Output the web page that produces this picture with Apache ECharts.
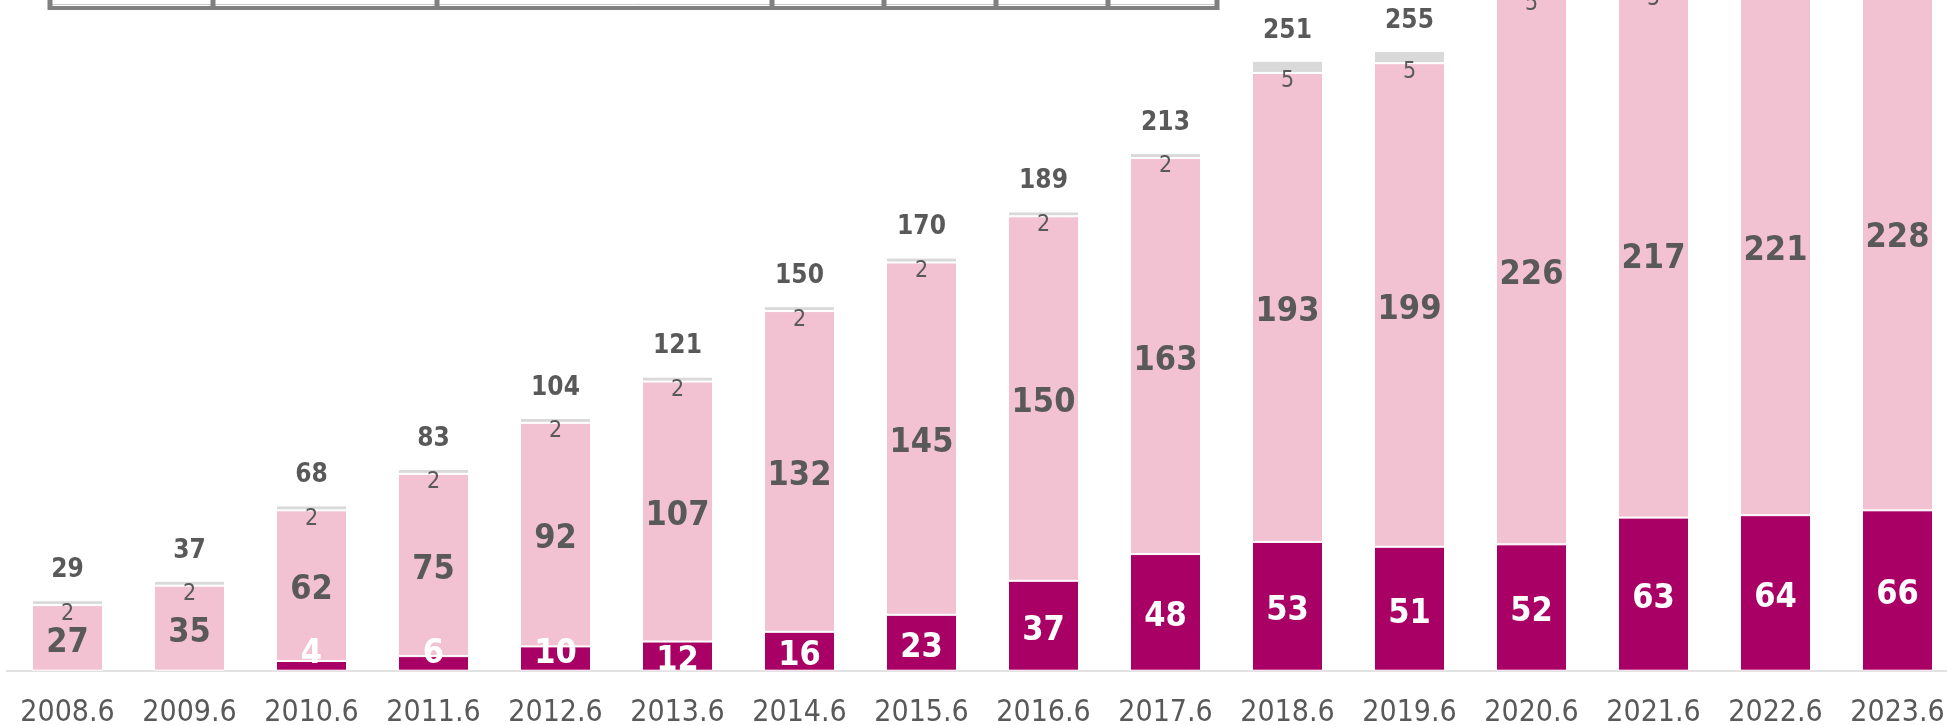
<!DOCTYPE html>
<html>
<head>
<meta charset="utf-8">
<title>chart</title>
<script src="https://cdn.jsdelivr.net/npm/echarts@6/dist/echarts.min.js"></script>
<style>
  html, body { margin: 0; padding: 0; background: #fff; }
  #chart { width: 1947px; height: 725px; }
</style>
</head>
<body>
<div id="chart"></div>
<script>
// 年度
const categories = ['2008.6', '2009.6', '2010.6', '2011.6', '2012.6', '2013.6', '2014.6', '2015.6',
  '2016.6', '2017.6', '2018.6', '2019.6', '2020.6', '2021.6', '2022.6', '2023.6'];
// 下段 (濃いピンク)
const darkValues = [null, null, 4, 6, 10, 12, 16, 23, 37, 48, 53, 51, 52, 63, 64, 66];
// 中段 (薄いピンク)
const lightValues = [27, 35, 62, 75, 92, 107, 132, 145, 150, 163, 193, 199, 226, 217, 221, 228];
// 上段 (グレー)
const grayValues = [2, 2, 2, 2, 2, 2, 2, 2, 2, 2, 5, 5, 5, 5, 5, 5];
// 合計
const totals = [29, 37, 68, 83, 104, 121, 150, 170, 189, 213, 251, 255, 283, 285, 290, 299];

const FONT = '"DejaVu Sans Condensed", "Noto Sans", sans-serif';
const TEXT = '#595959';

const chart = echarts.init(document.getElementById('chart'));

// 上部の枠 (切れている表の下端)
const boxXs = [50, 213, 437, 772, 884, 996, 1108, 1217];
const boxGraphics = [
  {type: 'line', shape: {x1: 50, y1: 8, x2: 1217, y2: 8}, style: {stroke: '#808080', lineWidth: 4}},
  {type: 'line', shape: {x1: 52, y1: 4.5, x2: 1215, y2: 4.5}, style: {stroke: '#c8c8c8', lineWidth: 1}}
];
boxXs.forEach(x => {
  boxGraphics.push({type: 'line', shape: {x1: x, y1: -2, x2: x, y2: 10}, style: {stroke: '#808080', lineWidth: 5}});
});

// 細い棒はラベルが軸の下に出ないよう下寄せにする
const darkData = darkValues.map(v => {
  if (v !== null && v <= 10) {
    return {value: v, label: {position: 'insideBottom', distance: 0, offset: [0, 0]}};
  }
  return v;
});

const option = {
  backgroundColor: '#fff',
  animation: false,
  // 上と右ははみ出している (元画像が切り取られている)
  grid: {left: 6.5, right: -11.5, top: -58.3, bottom: 54.3, containLabel: false, outerBoundsMode: 'none'},
  xAxis: {
    type: 'category',
    data: categories,
    axisLine: {show: true, lineStyle: {color: '#d9d9d9', width: 1.5}},
    axisTick: {show: false},
    axisLabel: {color: TEXT, fontSize: 30, fontFamily: FONT, margin: 28, interval: 0}
  },
  yAxis: {
    type: 'value', min: 0, max: 300,
    show: false,
    splitLine: {show: false}
  },
  graphic: boxGraphics,
  series: [
    {
      name: 'dark', type: 'bar', stack: 'total', barWidth: 71,
      data: darkData,
      itemStyle: {color: '#a80065', borderColor: '#fff', borderWidth: 1},
      label: {show: true, position: 'inside', offset: [0, 5], color: '#fff', fontSize: 34, fontWeight: 'bold', fontFamily: FONT}
    },
    {
      name: 'light', type: 'bar', stack: 'total', barWidth: 71,
      data: lightValues,
      itemStyle: {color: '#f2c2d3', borderColor: '#fff', borderWidth: 1},
      label: {show: true, position: 'inside', offset: [0, 5], color: TEXT, fontSize: 34, fontWeight: 'bold', fontFamily: FONT}
    },
    {
      name: 'gray', type: 'bar', stack: 'total', barWidth: 71,
      data: grayValues,
      itemStyle: {color: '#d9d9d9', borderColor: '#fff', borderWidth: 1},
      label: {show: true, position: 'bottom', distance: 0, offset: [0, -3], color: TEXT, fontSize: 23, fontFamily: FONT}
    },
    {
      // 合計ラベル用の透明な棒
      name: 'total', type: 'bar', barWidth: 71, barGap: '-100%',
      data: totals,
      z: 1,
      itemStyle: {color: 'rgba(0,0,0,0)'},
      label: {show: true, position: 'top', distance: 17, color: TEXT, fontSize: 26, fontWeight: 'bold', fontFamily: FONT}
    }
  ]
};

chart.setOption(option);
</script>
</body>
</html>
